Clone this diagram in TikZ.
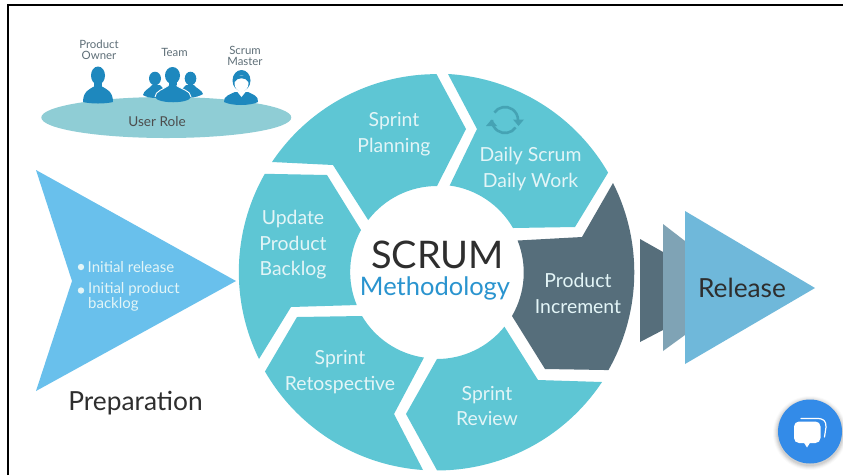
\documentclass[tikz,border=0pt]{standalone}
\usepackage{fontspec}
\setmainfont{Lato}
\definecolor{seg}{HTML}{5EC6D4}
\definecolor{incr}{HTML}{566E7B}
\definecolor{prep}{HTML}{69C0EC}
\definecolor{rel}{HTML}{6FB8DA}
\definecolor{relmid}{HTML}{7FA3B5}
\definecolor{role}{HTML}{8FCDD5}
\definecolor{person}{HTML}{1E88BE}
\definecolor{softtxt}{HTML}{E3F5F7}
\definecolor{darktxt}{HTML}{2E2E2E}
\definecolor{greytxt}{HTML}{5F6F78}
\definecolor{meth}{HTML}{2A94CF}
\definecolor{chat}{HTML}{338BE8}
\definecolor{sync}{HTML}{45A3B4}
\tikzset{
  x=1pt,y=-1pt,
  segtext/.style={text=softtxt,font=\fontsize{19.4}{25.5}\selectfont,align=center,inner sep=0pt},
  roletext/.style={text=greytxt,font=\fontsize{11.4}{11}\selectfont,align=center,inner sep=0pt},
  person/.style={fill=person,draw=none},
  bullettext/.style={text=softtxt,font=\fontsize{15}{15}\selectfont,align=left,inner sep=0pt,anchor=west},
  bigtext/.style={inner sep=0pt,text=darktxt,font=\fontsize{26.3}{26}\selectfont}
}
\begin{document}
\begin{tikzpicture}
\useasboundingbox (0,0) rectangle (843,475);
\fill[white] (0,0) rectangle (843,475);
% frame
\draw[black,line width=2pt] (8,475) -- (8,5) -- (843,5);
% circle segments
\fill[seg] (272,162) arc[start angle=213.8,end angle=270,radius=198] -- (466,129) -- (437,186)
  arc[start angle=270,end angle=217.3,radius=86.5] -- (333,165) -- cycle;
\fill[seg] (448,74) arc[start angle=273.3,end angle=330,radius=198] -- (575,227) -- (513,228)
  arc[start angle=330,end angle=277.7,radius=86.5] -- (477,129) -- cycle;
\fill[incr] (613,183) arc[start angle=333.2,end angle=389.6,radius=198] -- (545,369) -- (512,316)
  arc[start angle=30.2,end angle=-21.7,radius=86.5] -- (582,237) -- cycle;
\fill[seg] (602,382) arc[start angle=33.6,end angle=90,radius=198] -- (406,414) -- (437,359)
  arc[start angle=90,end angle=38.8,radius=86.5] -- (538,380) -- cycle;
\fill[seg] (423,470) arc[start angle=93.9,end angle=150,radius=198] -- (297,317) -- (362,316)
  arc[start angle=149.4,end angle=98.3,radius=86.5] -- (394,414) -- cycle;
\fill[seg] (259,359) arc[start angle=153.9,end angle=209.7,radius=198] -- (327,175) -- (361,230)
  arc[start angle=209,end angle=157.5,radius=86.5] -- (291,307) -- cycle;
% segment labels
\node[segtext] (planning) at (394,134) {Sprint\\Planning};
\node[segtext] (daily) at (530.5,169) {Daily Scrum\\Daily Work};
\node[segtext] (update) at (293,245) {Update\\Product\\Backlog};
\node[segtext] (increment) at (578,293.5) {Product\\Increment};
\node[segtext] (review) at (487,406) {Sprint\\Review};
\node[segtext] (retro) at (340,372) {Sprint\\Retospective};
% centre
\node[inner sep=0pt,text=darktxt,font=\fontsize{38}{38}\selectfont] (scrum) at (437.5,254.5) {SCRUM};
\node[inner sep=0pt,text=meth,font=\fontsize{25.5}{26}\selectfont] (method) at (435,288.5) {Methodology};
% sync icon
\draw[sync,line width=2.6pt] (505,120) ++(215:13) arc[start angle=215,end angle=360,radius=13];
\draw[sync,line width=2.6pt] (505,120) ++(35:13) arc[start angle=35,end angle=180,radius=13];
\fill[sync] (513,119.5) -- (524,119.5) -- (518.5,126) -- cycle;
\fill[sync] (486,126) -- (497,126) -- (491.5,119.5) -- cycle;
% preparation
\fill[prep] (36,170) -- (236,281) -- (36,391) -- (72,281) -- cycle;
\fill[softtxt] (81,267) circle (3.2);
\fill[softtxt] (81,290.5) circle (3.2);
\node[bullettext] (b1) at (87.5,267.5) {Initial release};
\node[bullettext] (b2) at (88,297) {Initial product\\backlog};
\node[bigtext] (prepl) at (135.5,403) {Preparation};
% release
\fill[incr] (640,239) -- (663,252) -- (663,330) -- (640,342) -- cycle;
\fill[relmid] (663,224) -- (685,241) -- (685,335) -- (663,351) -- cycle;
\fill[rel] (685,211) -- (815,288) -- (685,364) -- cycle;
\node[bigtext] (rell) at (742,288) {Release};
% user role
\fill[role] (166.3,117.5) ellipse [x radius=125,y radius=20.5];
\node[inner sep=0pt,text=darktxt!85,font=\fontsize{13.6}{13}\selectfont] (rolel) at (157,121.5) {User Role};
\node[roletext] (po) at (99,50) {Product\\Owner};
\node[roletext] (team) at (174.5,52) {Team};
\node[roletext] (sm) at (245,55.5) {Scrum\\Master};
% product owner
\fill[person] (98,75.5) ellipse [x radius=7,y radius=9];
\fill[person] (94,80) rectangle (102,88);
\fill[person] (83,102) .. controls (83,91) and (90,89) .. (94,86.5) .. controls (96,88) and (100,88) .. (102,86.5)
  .. controls (106,89) and (113,91) .. (113,102)
  .. controls (105,104) and (91,104) .. (83,102) -- cycle;
% team
\fill[person] (155,78.5) ellipse [x radius=6,y radius=6.8];
\fill[person] (190.5,78.5) ellipse [x radius=5.8,y radius=6.8];
\fill[person] (143,95) .. controls (144,90) and (149,89) .. (152,85) -- (160,85) -- (170,96) -- (156,98) .. controls (151,98) and (146,97) .. (143,95) -- cycle;
\fill[person] (203,94) .. controls (202,90) and (197,89) .. (194,85) -- (186,85) -- (176,96) -- (190,97.5) .. controls (195,97.5) and (200,96) .. (203,94) -- cycle;
\fill[person] (172.5,75.5) ellipse [x radius=7.5,y radius=8.5];
\fill[person] (168.5,80) rectangle (176.5,88);
\fill[person] (155,97) .. controls (155,91) and (164,89) .. (168.5,85.5) -- (176.5,85.5) .. controls (181,89) and (191,91) .. (191,97)
  .. controls (189,104) and (157,104) .. (155,97) -- cycle;
\draw[white,line width=0.9pt] (155,97) .. controls (155,91) and (164,89) .. (168.5,85.5);
\draw[white,line width=0.9pt] (176.5,85.5) .. controls (181,89) and (191,91) .. (191,97);
% scrum master
\fill[person] (224,102) .. controls (223,96) and (231,94) .. (235,92) -- (248,92) .. controls (252,94) and (259,96) .. (258,102)
  .. controls (250,106) and (232,106) .. (224,102) -- cycle;
\fill[white] (237.5,92) -- (245.5,92) -- (241.5,97) -- cycle;
\fill[person] (241.5,80.5) ellipse [x radius=9,y radius=10.5];
\fill[white] (241.5,83.5) ellipse [x radius=7,y radius=8];
\fill[person] (234.5,82) .. controls (237,77) and (246,77) .. (248.5,82) -- (248.5,76) -- (234.5,76) -- cycle;
% chat
\foreach \r/\o in {37/0.02,36/0.03,35/0.04,34/0.05,33/0.06}{\fill[black,opacity=\o] (810,433) circle (\r);}
\fill[chat] (810,431.5) circle (32);
\draw[white,line width=1.2pt,line cap=round] (801,418.5) -- (817,418.5) .. controls (824,418.5) and (826,421) .. (826,427) -- (824.5,437);
\fill[white,rounded corners=5pt] (794,421.5) rectangle (820.5,443);
\fill[white] (803.5,442) -- (807,447.5) -- (810.5,442) -- cycle;
\end{tikzpicture}
\end{document}
